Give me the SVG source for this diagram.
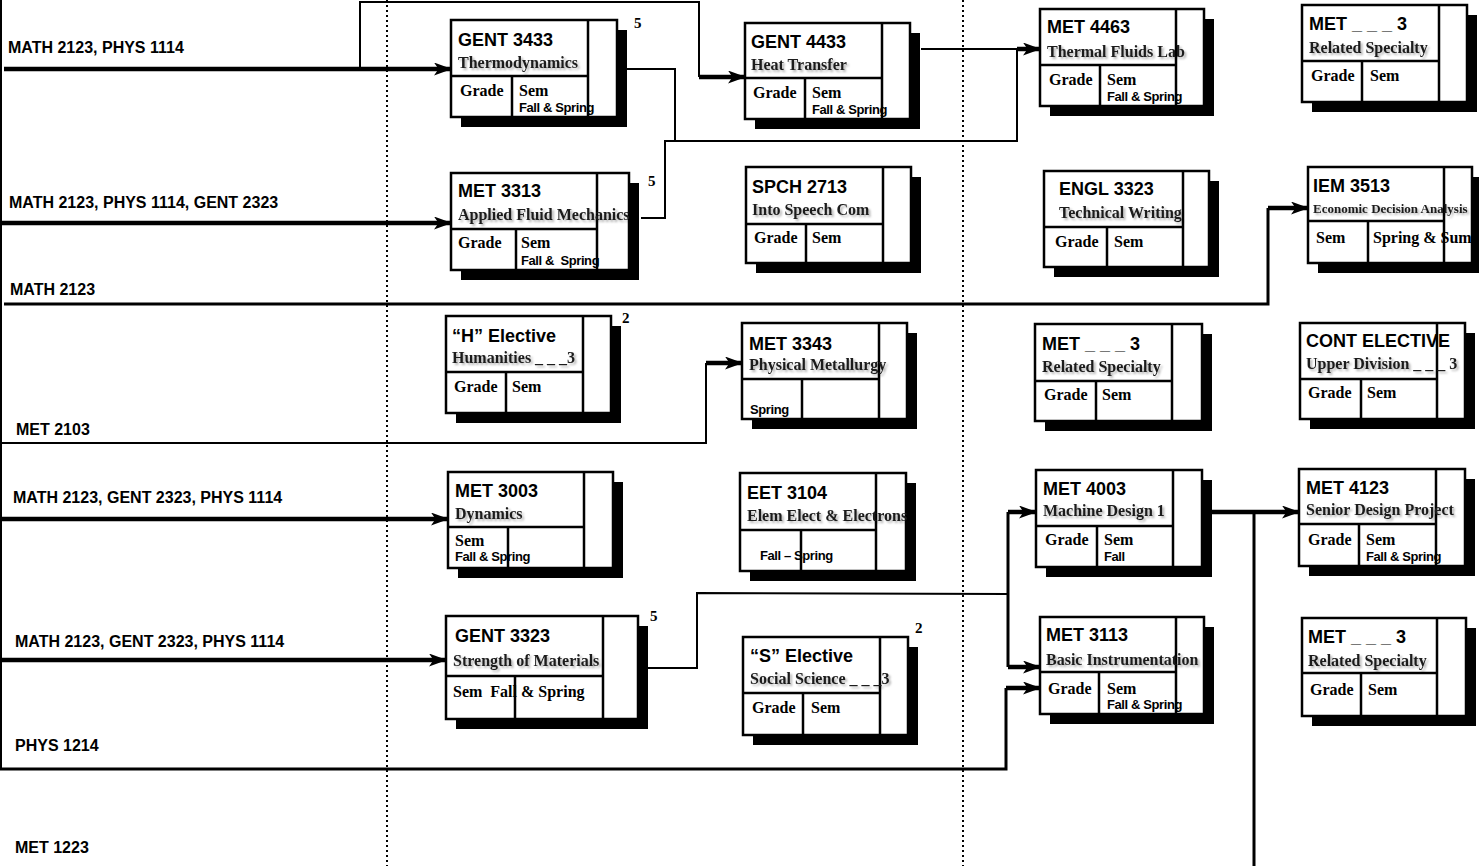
<svg xmlns="http://www.w3.org/2000/svg" width="1479" height="866" viewBox="0 0 1479 866">
<style>
.bg{fill:#fff}
.sh{fill:#000}
.bx{fill:#fff;stroke:#000;stroke-width:2.5}
.dv{stroke:#000;stroke-width:2.5;fill:none}
.t{font-family:"Liberation Sans",Arial,sans-serif;font-weight:bold;font-size:18px;fill:#000}
.s{font-family:"Liberation Serif","Times New Roman",serif;font-weight:bold;font-size:16px;fill:#000}
.ss{font-family:"Liberation Serif","Times New Roman",serif;font-weight:bold;font-size:16px;fill:#1a1a1a;filter:url(#ts)}
.f{font-family:"Liberation Sans",Arial,sans-serif;font-weight:bold;font-size:13px;fill:#000;letter-spacing:-0.4px}
.n{font-family:"Liberation Serif","Times New Roman",serif;font-weight:bold;font-size:15px;fill:#000}
.lb{font-family:"Liberation Sans",Arial,sans-serif;font-weight:bold;font-size:16px;fill:#000}
.c{stroke:#000;stroke-width:2;fill:none}
.c3{stroke:#000;stroke-width:3;fill:none}
.k{stroke:#000;stroke-width:4.5;fill:none}
.dot{stroke:#000;stroke-width:2;stroke-dasharray:2 3;fill:none}
</style>
<defs>
<filter id="ts" x="-5%" y="-30%" width="115%" height="170%">
<feDropShadow dx="2" dy="2" stdDeviation="1.3" flood-color="#000" flood-opacity="0.3"/>
</filter>
<marker id="ah" markerUnits="userSpaceOnUse" viewBox="0 0 18 13" refX="17" refY="6.5" markerWidth="18" markerHeight="13" orient="auto">
<path d="M0,0 L18,6.5 L0,13 L4.5,6.5 Z" fill="#000"/>
</marker>
</defs>
<rect class="bg" x="0" y="0" width="1479" height="866"/>

<g id="grid">
<line class="c" x1="1" y1="0" x2="1" y2="769"/>
<line class="dot" x1="387" y1="0" x2="387" y2="866"/>
<line class="dot" x1="963" y1="0" x2="963" y2="866"/>
</g>

<g id="labels">
<text class="lb" x="8" y="53">MATH 2123, PHYS 1114</text>
<text class="lb" x="9" y="208">MATH 2123, PHYS 1114, GENT 2323</text>
<text class="lb" x="10" y="295">MATH 2123</text>
<text class="lb" x="16" y="435">MET 2103</text>
<text class="lb" x="13" y="503">MATH 2123, GENT 2323, PHYS 1114</text>
<text class="lb" x="15" y="647">MATH 2123, GENT 2323, PHYS 1114</text>
<text class="lb" x="15" y="751">PHYS 1214</text>
<text class="lb" x="15" y="853">MET 1223</text>
</g>

<g id="connectors">
<line class="k" x1="4" y1="69" x2="451" y2="69" marker-end="url(#ah)"/>
<polyline class="c" points="360,69 360,2 699,2 699,77"/>
<line class="k" x1="699" y1="77" x2="745" y2="77" marker-end="url(#ah)"/>
<polyline class="c" points="627,69 675,69 675,141"/>
<polyline class="c" points="641,218 665,218 665,141 1017,141 1017,49"/>
<line class="c" x1="921" y1="49" x2="1017" y2="49"/>
<line class="k" x1="1017" y1="49" x2="1040" y2="49" marker-end="url(#ah)"/>
<line class="k" x1="0" y1="223" x2="451" y2="223" marker-end="url(#ah)"/>
<polyline class="c3" points="4,304 1268,304 1268,208"/>
<line class="k" x1="1268" y1="208" x2="1308" y2="208" marker-end="url(#ah)"/>
<polyline class="c" points="0,443 706,443 706,363"/>
<line class="k" x1="706" y1="363" x2="742" y2="363" marker-end="url(#ah)"/>
<line class="k" x1="0" y1="519" x2="448" y2="519" marker-end="url(#ah)"/>
<line class="k" x1="0" y1="660" x2="446" y2="660" marker-end="url(#ah)"/>
<polyline class="c" points="648,668 697,668 697,593 1008,594"/>
<line class="c3" x1="1008" y1="512" x2="1008" y2="667"/>
<line class="k" x1="1008" y1="512" x2="1036" y2="512" marker-end="url(#ah)"/>
<line class="k" x1="1008" y1="667" x2="1040" y2="667" marker-end="url(#ah)"/>
<polyline class="c3" points="0,769 1006,769 1006,688"/>
<line class="k" x1="1006" y1="688" x2="1040" y2="688" marker-end="url(#ah)"/>
<line class="k" x1="1212" y1="512" x2="1299" y2="512" marker-end="url(#ah)"/>
<line class="c3" x1="1254" y1="512" x2="1254" y2="866"/>
</g>

<g id="gent3433">
<rect class="sh" x="461" y="30" width="166" height="97"/>
<rect class="bx" x="451" y="20" width="166" height="97"/>
<path class="dv" d="M588,20 V117 M451,76 H588 M512,76 V117"/>
<text class="t" x="458" y="46">GENT 3433</text>
<text class="ss" x="458" y="68">Thermodynamics</text>
<text class="s" x="460" y="96">Grade</text>
<text class="s" x="519" y="96">Sem</text>
<text class="f" x="519" y="112">Fall &amp; Spring</text>
<text class="n" x="634" y="28">5</text>
</g>

<g id="gent4433">
<rect class="sh" x="755" y="33" width="165" height="96"/>
<rect class="bx" x="745" y="23" width="165" height="96"/>
<path class="dv" d="M882,23 V119 M745,78 H882 M805,78 V119"/>
<text class="t" x="751" y="48">GENT 4433</text>
<text class="ss" x="751" y="70">Heat Transfer</text>
<text class="s" x="753" y="98">Grade</text>
<text class="s" x="812" y="98">Sem</text>
<text class="f" x="812" y="114">Fall &amp; Spring</text>
</g>

<g id="met4463">
<rect class="sh" x="1050" y="19" width="164" height="97"/>
<rect class="bx" x="1040" y="9" width="164" height="97"/>
<path class="dv" d="M1176,9 V106 M1040,65 H1176 M1100,65 V106"/>
<text class="t" x="1047" y="33">MET 4463</text>
<text class="ss" x="1047" y="57">Thermal Fluids Lab</text>
<text class="s" x="1049" y="85">Grade</text>
<text class="s" x="1107" y="85">Sem</text>
<text class="f" x="1107" y="101">Fall &amp; Spring</text>
</g>

<g id="met_spec1">
<rect class="sh" x="1312" y="15" width="165" height="97"/>
<rect class="bx" x="1302" y="5" width="165" height="97"/>
<path class="dv" d="M1439,5 V102 M1302,61 H1439 M1362,61 V102"/>
<text class="t" x="1309" y="30">MET _ _ _ 3</text>
<text class="ss" x="1309" y="53">Related Specialty</text>
<text class="s" x="1311" y="81">Grade</text>
<text class="s" x="1370" y="81">Sem</text>
</g>

<g id="met3313">
<rect class="sh" x="461" y="183" width="178" height="97"/>
<rect class="bx" x="451" y="173" width="178" height="97"/>
<path class="dv" d="M597,173 V270 M451,229 H597 M516,229 V270"/>
<text class="t" x="458" y="197">MET 3313</text>
<text class="ss" x="458" y="220">Applied Fluid Mechanics</text>
<text class="s" x="458" y="248">Grade</text>
<text class="s" x="521" y="248">Sem</text>
<text class="f" x="521" y="265" xml:space="preserve">Fall &amp;  Spring</text>
<text class="n" x="648" y="186">5</text>
</g>

<g id="spch2713">
<rect class="sh" x="756" y="177" width="165" height="96"/>
<rect class="bx" x="746" y="167" width="165" height="96"/>
<path class="dv" d="M883,167 V263 M746,224 H883 M806,224 V263"/>
<text class="t" x="752" y="193">SPCH 2713</text>
<text class="ss" x="752" y="215">Into Speech Com</text>
<text class="s" x="754" y="243">Grade</text>
<text class="s" x="812" y="243">Sem</text>
</g>

<g id="engl3323">
<rect class="sh" x="1054" y="181" width="165" height="96"/>
<rect class="bx" x="1044" y="171" width="165" height="96"/>
<path class="dv" d="M1183,171 V267 M1044,227 H1183 M1107,227 V267"/>
<text class="t" x="1059" y="195">ENGL 3323</text>
<text class="ss" x="1059" y="218">Technical Writing</text>
<text class="s" x="1055" y="247">Grade</text>
<text class="s" x="1114" y="247">Sem</text>
</g>

<g id="iem3513">
<rect class="sh" x="1318" y="177" width="164" height="96"/>
<rect class="bx" x="1308" y="167" width="164" height="96"/>
<path class="dv" d="M1444,167 V263 M1308,221 H1444 M1368,221 V263"/>
<text class="t" x="1313" y="192">IEM 3513</text>
<text class="ss" x="1313" y="213" style="font-size:13px">Economic Decision Analysis</text>
<text class="s" x="1316" y="243">Sem</text>
<text class="s" x="1373" y="243">Spring &amp; Sum</text>
</g>

<g id="h_elective">
<rect class="sh" x="456" y="326" width="165" height="97"/>
<rect class="bx" x="446" y="316" width="165" height="97"/>
<path class="dv" d="M583,316 V413 M446,372 H583 M506,372 V413"/>
<text class="t" x="452" y="342">“H” Elective</text>
<text class="ss" x="452" y="363">Humanities _ _ _3</text>
<text class="s" x="454" y="392">Grade</text>
<text class="s" x="512" y="392">Sem</text>
<text class="n" x="622" y="323">2</text>
</g>

<g id="met3343">
<rect class="sh" x="752" y="333" width="165" height="96"/>
<rect class="bx" x="742" y="323" width="165" height="96"/>
<path class="dv" d="M879,323 V419 M742,379 H879 M802,379 V419"/>
<text class="t" x="749" y="350">MET 3343</text>
<text class="ss" x="749" y="370">Physical Metallurgy</text>
<text class="f" x="750" y="414">Spring</text>
</g>

<g id="met_spec2">
<rect class="sh" x="1045" y="334" width="167" height="97"/>
<rect class="bx" x="1035" y="324" width="167" height="97"/>
<path class="dv" d="M1172,324 V421 M1035,381 H1172 M1096,381 V421"/>
<text class="t" x="1042" y="350">MET _ _ _ 3</text>
<text class="ss" x="1042" y="372">Related Specialty</text>
<text class="s" x="1044" y="400">Grade</text>
<text class="s" x="1102" y="400">Sem</text>
</g>

<g id="cont_elective">
<rect class="sh" x="1310" y="333" width="165" height="96"/>
<rect class="bx" x="1300" y="323" width="165" height="96"/>
<path class="dv" d="M1437,323 V419 M1300,379 H1437 M1361,379 V419"/>
<text class="t" x="1306" y="347">CONT ELECTIVE</text>
<text class="ss" x="1306" y="369">Upper Division _ _ _ 3</text>
<text class="s" x="1308" y="398">Grade</text>
<text class="s" x="1367" y="398">Sem</text>
</g>

<g id="met3003">
<rect class="sh" x="458" y="482" width="165" height="96"/>
<rect class="bx" x="448" y="472" width="165" height="96"/>
<path class="dv" d="M584,472 V568 M448,527 H584 M508,527 V568"/>
<text class="t" x="455" y="497">MET 3003</text>
<text class="ss" x="455" y="519">Dynamics</text>
<text class="s" x="455" y="546">Sem</text>
<text class="f" x="455" y="561">Fall &amp; Spring</text>
</g>

<g id="eet3104">
<rect class="sh" x="750" y="483" width="166" height="98"/>
<rect class="bx" x="740" y="473" width="166" height="98"/>
<path class="dv" d="M876,473 V571 M740,530 H876 M801,530 V571"/>
<text class="t" x="747" y="499">EET 3104</text>
<text class="ss" x="747" y="521">Elem Elect &amp; Electrons</text>
<text class="f" x="760" y="560">Fall – Spring</text>
</g>

<g id="met4003">
<rect class="sh" x="1046" y="480" width="166" height="97"/>
<rect class="bx" x="1036" y="470" width="166" height="97"/>
<path class="dv" d="M1173,470 V567 M1036,526 H1173 M1097,526 V567"/>
<text class="t" x="1043" y="495">MET 4003</text>
<text class="ss" x="1043" y="516">Machine Design 1</text>
<text class="s" x="1045" y="545">Grade</text>
<text class="s" x="1104" y="545">Sem</text>
<text class="f" x="1104" y="561">Fall</text>
</g>

<g id="met4123">
<rect class="sh" x="1309" y="479" width="166" height="97"/>
<rect class="bx" x="1299" y="469" width="166" height="97"/>
<path class="dv" d="M1436,469 V566 M1299,524 H1436 M1359,524 V566"/>
<text class="t" x="1306" y="494">MET 4123</text>
<text class="ss" x="1306" y="515">Senior Design Project</text>
<text class="s" x="1308" y="545">Grade</text>
<text class="s" x="1366" y="545">Sem</text>
<text class="f" x="1366" y="561">Fall &amp; Spring</text>
</g>

<g id="gent3323">
<rect class="sh" x="456" y="626" width="192" height="103"/>
<rect class="bx" x="446" y="616" width="192" height="103"/>
<path class="dv" d="M603,616 V719 M446,676 H603 M515,676 V719"/>
<text class="t" x="455" y="642">GENT 3323</text>
<text class="ss" x="453" y="666">Strength of Materials</text>
<text class="s" x="453" y="697" xml:space="preserve">Sem  Fall &amp; Spring</text>
<text class="n" x="650" y="621">5</text>
</g>

<g id="s_elective">
<rect class="sh" x="753" y="647" width="165" height="98"/>
<rect class="bx" x="743" y="637" width="165" height="98"/>
<path class="dv" d="M880,637 V735 M743,693 H880 M803,693 V735"/>
<text class="t" x="750" y="662">“S” Elective</text>
<text class="ss" x="750" y="684">Social Science _ _ _3</text>
<text class="s" x="752" y="713">Grade</text>
<text class="s" x="811" y="713">Sem</text>
<text class="n" x="915" y="633">2</text>
</g>

<g id="met3113">
<rect class="sh" x="1050" y="627" width="164" height="97"/>
<rect class="bx" x="1040" y="617" width="164" height="97"/>
<path class="dv" d="M1176,617 V714 M1040,672 H1176 M1099,672 V714"/>
<text class="t" x="1046" y="641">MET 3113</text>
<text class="ss" x="1046" y="665">Basic Instrumentation</text>
<text class="s" x="1048" y="694">Grade</text>
<text class="s" x="1107" y="694">Sem</text>
<text class="f" x="1107" y="709">Fall &amp; Spring</text>
</g>

<g id="met_spec3">
<rect class="sh" x="1312" y="628" width="164" height="98"/>
<rect class="bx" x="1302" y="618" width="164" height="98"/>
<path class="dv" d="M1437,618 V716 M1302,673 H1437 M1361,673 V716"/>
<text class="t" x="1308" y="643">MET _ _ _ 3</text>
<text class="ss" x="1308" y="666">Related Specialty</text>
<text class="s" x="1310" y="695">Grade</text>
<text class="s" x="1368" y="695">Sem</text>
</g>
</svg>
